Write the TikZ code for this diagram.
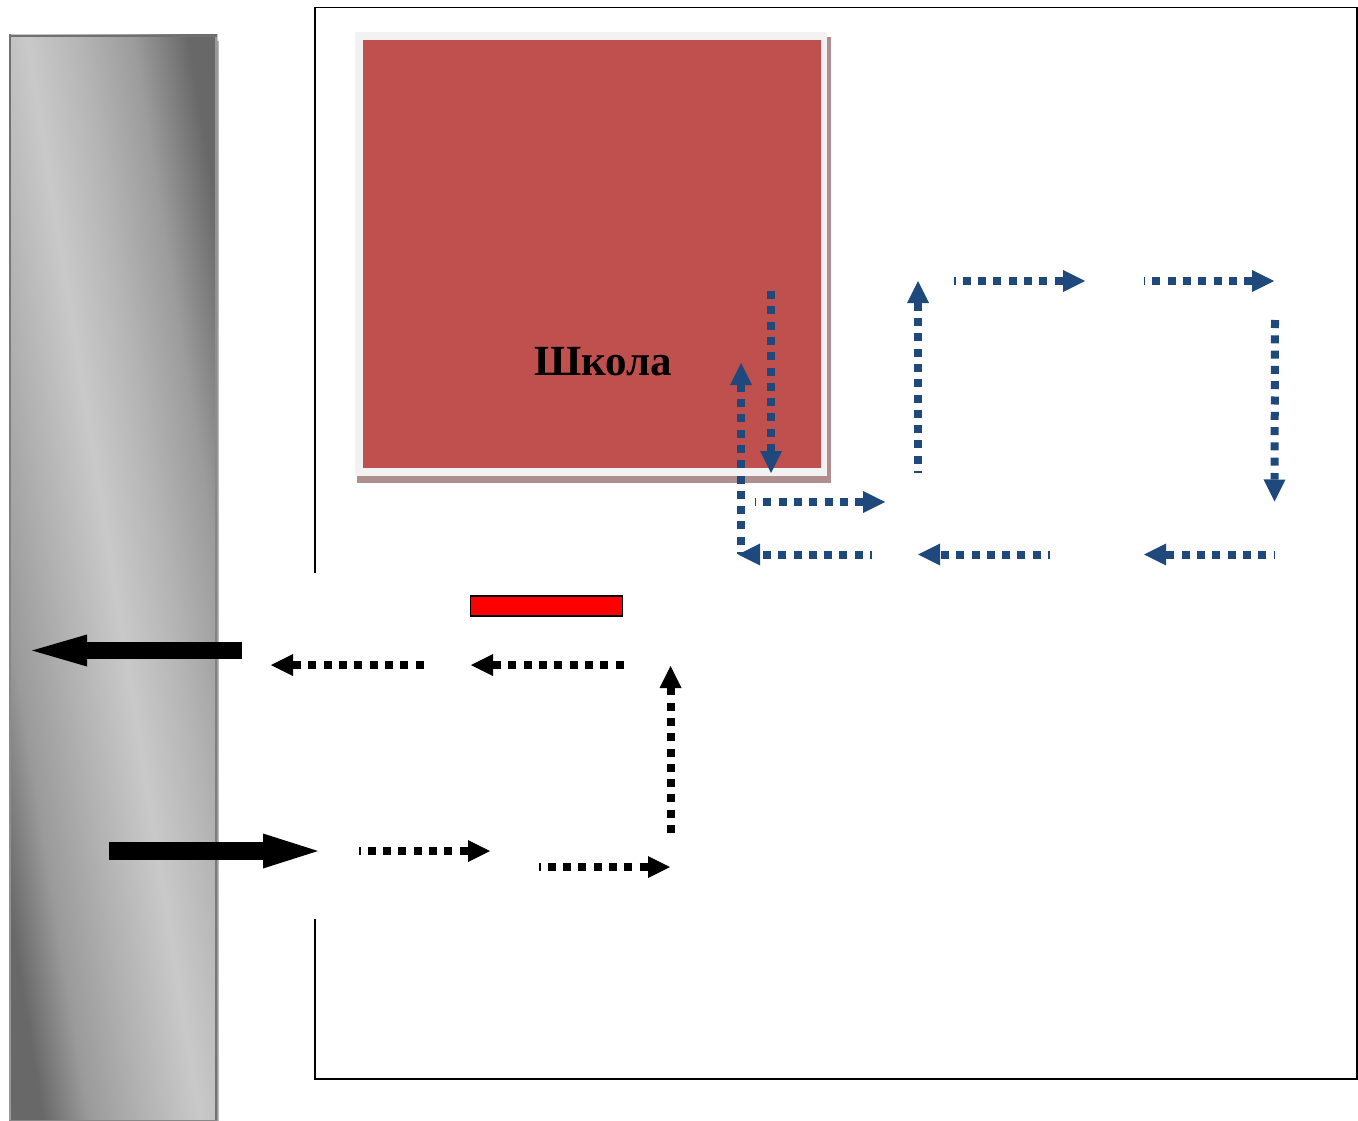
\documentclass[tikz,border=0pt]{standalone}
\usepackage{fontspec}
\setmainfont{Liberation Serif}
\usetikzlibrary{arrows.meta}
\definecolor{pathblue}{HTML}{1F497D}
\definecolor{schoolred}{HTML}{C0504D}
\definecolor{schoolshadow}{HTML}{B08E8E}
\definecolor{schoolrim}{HTML}{F2F2F2}
\definecolor{gDark}{HTML}{686868}
\definecolor{gA}{HTML}{808080}
\definecolor{gB}{HTML}{9C9C9C}
\definecolor{gC}{HTML}{B6B6B6}
\definecolor{gLight}{HTML}{C9C9C9}
\definecolor{gD}{HTML}{B0B0B0}
\definecolor{gE}{HTML}{9A9A9A}
\definecolor{gEdge}{HTML}{707070}
\definecolor{gEdgeB}{HTML}{888888}
\pgfdeclarehorizontalshading{roadband}{100bp}{
 color(0bp)=(gDark); color(42.95bp)=(gDark); color(45bp)=(gE); color(47.27bp)=(gD);
 color(50bp)=(gLight); color(52.27bp)=(gC); color(54.77bp)=(gB); color(56.14bp)=(gA);
 color(57.27bp)=(gDark); color(100bp)=(gDark)}
\tikzset{
 x=1pt,y=-1pt,
 walk/.style={line width=8pt,dash pattern=on 8pt off 7.3pt,-{Triangle[length=22pt,width=22pt,line width=0pt]}},
 walkbar/.style={walk,dash phase=6.5pt},
 bluewalk/.style={walk,draw=pathblue,color=pathblue},
 bluebar/.style={walkbar,draw=pathblue,color=pathblue},
 blackwalk/.style={walk,draw=black},
 blackbar/.style={walkbar,draw=black},
 bigarrow/.style={line width=17pt,black}
}
\begin{document}
\begin{tikzpicture}
\useasboundingbox (0,0) rectangle (1358,1121);
% road strip
\fill[gray!55] (216,41) rectangle (219,1121);
\begin{scope}
\clip (9,35) rectangle (217,1121);
\fill[shading=roadband,shading angle=9.1] (-437,28) rectangle (663,1128);
\end{scope}
\fill[top color=gEdge,bottom color=gE] (9,35) rectangle (10.5,1120);
\fill[top color=gE,bottom color=gEdge] (215,36) rectangle (217,1120);
\fill[gEdge] (9,35) rectangle (217,37);
\fill[gEdgeB] (9,1119.5) rectangle (217,1121);
% yard frame
\coordinate (f1) at (315,573);
\coordinate (f2) at (315,7.5);
\coordinate (f3) at (1357,7.5);
\coordinate (f4) at (1357,1079);
\coordinate (f5) at (315,1079);
\coordinate (f6) at (315,919);
\draw[line width=1.6pt,line join=miter] (f1) -- (f2) -- (f3) -- (f4) -- (f5) -- (f6);
% school
\fill[schoolshadow] (357,37) rectangle (831,483);
\fill[schoolrim] (355,32) rectangle (827,476);
\fill[schoolred] (363,40) rectangle (820.5,468);
\node[font=\fontsize{43}{47}\selectfont\bfseries,inner sep=0pt] (school) at (603,362) {Школа};
% gate
\node[draw=black,fill=red,line width=1.5pt,minimum width=152pt,minimum height=20pt,inner sep=0pt,outer sep=0pt] (gate) at (546.7,606.2) {};
% blue route
\coordinate (b1s) at (771,291);  \coordinate (b1e) at (771,473);
\coordinate (b2s) at (741,553.5);\coordinate (b2e) at (741,363);
\coordinate (b3s) at (754.5,502);\coordinate (b3e) at (885,502);
\coordinate (b4s) at (871.5,554.5);\coordinate (b4e) at (738,554.5);
\coordinate (b5s) at (918,472.5);\coordinate (b5e) at (918,281);
\coordinate (b6s) at (954,281);  \coordinate (b6e) at (1085,281);
\coordinate (b7s) at (1143.5,281);\coordinate (b7e) at (1274,281);
\coordinate (b8s) at (1275,320); \coordinate (b8e) at (1274.5,501.5);
\coordinate (b9s) at (1275,554.5);\coordinate (b9e) at (1144,554.5);
\coordinate (b10s) at (1049.5,554.5);\coordinate (b10e) at (918,554.5);
\draw[bluewalk] (b1s) -- (b1e);
\draw[bluebar] (b2s) -- (b2e);
\draw[bluebar] (b3s) -- (b3e);
\draw[bluebar] (b4s) -- (b4e);
\draw[bluebar] (b5s) -- (b5e);
\draw[bluebar] (b6s) -- (b6e);
\draw[bluebar] (b7s) -- (b7e);
\draw[bluewalk] (b8s) -- (b8e);
\draw[bluebar] (b9s) -- (b9e);
\draw[bluebar] (b10s) -- (b10e);
% black route
\coordinate (k1s) at (423.5,665);\coordinate (k1e) at (271,665);
\coordinate (k2s) at (623.5,665);\coordinate (k2e) at (471,665);
\coordinate (k3s) at (670.5,833);\coordinate (k3e) at (670.5,666);
\coordinate (k4s) at (359,851);  \coordinate (k4e) at (490,851);
\coordinate (k5s) at (539,867);  \coordinate (k5e) at (670,867);
\draw[blackwalk] (k1s) -- (k1e);
\draw[blackwalk] (k2s) -- (k2e);
\draw[blackwalk] (k3s) -- (k3e);
\draw[blackbar] (k4s) -- (k4e);
\draw[blackbar] (k5s) -- (k5e);
% big arrows
\coordinate (t1s) at (242,650.5);\coordinate (t1e) at (32,650.5);
\coordinate (t2s) at (109,851);  \coordinate (t2e) at (318,851);
\draw[bigarrow,-{Triangle[length=55pt,width=32pt,line width=0pt]}] (t1s) -- (t1e);
\draw[bigarrow,line width=18pt,-{Triangle[length=55pt,width=35pt,line width=0pt]}] (t2s) -- (t2e);
\end{tikzpicture}
\end{document}
